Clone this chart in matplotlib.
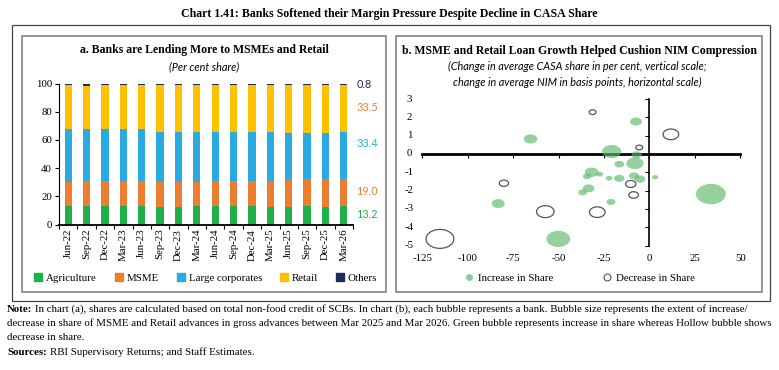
import matplotlib
matplotlib.use("Agg")
import matplotlib.pyplot as plt
import numpy as np
from matplotlib.patches import Rectangle
from matplotlib.path import Path
from matplotlib.lines import Line2D

# ---- data: panel a (per cent share of non-food credit) ----
quarters = ["Jun-22", "Sep-22", "Dec-22", "Mar-23", "Jun-23", "Sep-23", "Dec-23", "Mar-24",
            "Jun-24", "Sep-24", "Dec-24", "Mar-25", "Jun-25", "Sep-25", "Dec-25", "Mar-26"]
agri = [13.0, 13.0, 13.0, 13.1, 13.0, 12.4, 12.7, 13.0, 13.1, 13.0, 13.0, 12.7, 12.6, 12.8, 12.5, 13.2]
msme = [17.3, 17.5, 17.5, 17.7, 17.8, 17.6, 17.3, 17.3, 17.4, 17.8, 17.8, 18.1, 18.9, 19.2, 19.5, 19.0]
large_corp = [37.5, 36.9, 37.1, 37.0, 36.6, 35.6, 35.6, 35.3, 35.1, 34.8, 34.8, 34.8, 33.5, 33.0, 33.2, 33.4]
retail = [30.8, 31.1, 31.1, 30.9, 31.4, 33.2, 33.3, 33.3, 33.3, 33.4, 33.4, 33.4, 34.1, 34.1, 34.0, 33.5]
others = [1.4, 1.5, 1.3, 1.3, 1.2, 1.2, 1.1, 1.1, 1.1, 1.0, 1.0, 1.0, 0.9, 0.9, 0.8, 0.8]

# ---- data: panel b (each bubble = a bank) ----
# change in avg NIM (bps), change in avg CASA share (%), size = extent of change in MSME+Retail share
inc_nim = [-7.4, -20.8, -16.6, -8.0, -7.0, -31.8, -27.4, -34.3, -22.2, -16.6, -8.5, -5.3, 3.1,
           -33.5, -36.8, -21.2, -83.2, 33.8, -50.2, -65.4]
inc_casa = [1.77, 0.13, -0.56, -0.51, -0.05, -1.00, -1.11, -1.22, -1.33, -1.33, -1.20, -1.37, -1.27,
            -1.88, -2.10, -2.62, -2.71, -2.19, -4.64, 0.82]
inc_size = [1.3, 3.5, 0.9, 2.8, 1.0, 1.8, 0.45, 0.64, 0.45, 1.0, 1.0, 1.1, 0.36,
            1.3, 0.75, 0.75, 1.6, 8.4, 5.3, 1.7]
dec_nim = [-31.3, 11.8, -5.6, -10.3, -8.7, -28.7, -80.1, -57.3, -115.3]
dec_casa = [2.28, 1.07, 0.35, -1.64, -2.24, -3.18, -1.60, -3.15, -4.64]
dec_size = [0.45, 2.3, 0.45, 1.0, 0.87, 2.3, 0.8, 2.9, 7.3]

W, H = 779, 370
fig = plt.figure(figsize=(W / 100, H / 100), dpi=100)
serif = "Liberation Serif"
ital = "Lato"

def fig_rect(x0, y0, x1, y1):
    # pixel box (top-left origin) -> figure fraction rect
    return [x0 / W, 1 - y1 / H, (x1 - x0) / W, (y1 - y0) / H]

def box(x0, y0, x1, y1, color, lw):
    r = Rectangle((x0 / W, 1 - y1 / H), (x1 - x0) / W, (y1 - y0) / H, transform=fig.transFigure,
                  fill=False, edgecolor=color, linewidth=lw)
    fig.add_artist(r)

box(12, 25, 770, 301, "#444444", 0.9)
box(22, 36, 386, 292, "#8c8c8c", 1.3)
box(396, 36, 762, 292, "#8c8c8c", 1.3)

fig.text(0.5, 1 - 14 / H, "Chart 1.41: Banks Softened their Margin Pressure Despite Decline in CASA Share",
         ha="center", va="center", fontsize=8.6, fontweight="bold", family=serif)

# ---- panel a ----
colors = ["#1FAF4B", "#ED7D31", "#29ABE2", "#FFC000", "#1F2A5E"]
names = ["Agriculture", "MSME", "Large corporates", "Retail", "Others"]
series = [agri, msme, large_corp, retail, others]

ax1 = fig.add_axes(fig_rect(59, 83.5, 353, 224.5))
x = np.arange(len(quarters))
bottom = np.zeros(len(quarters))
for vals, c in zip(series, colors):
    ax1.bar(x, vals, bottom=bottom, width=0.4, color=c, linewidth=0)
    bottom += np.array(vals)
ax1.set_xlim(-0.5, len(quarters) - 0.5)
ax1.set_ylim(0, 100)
ax1.set_yticks(np.arange(0, 101, 20))
ax1.set_xticks(x)
ax1.set_xticklabels(quarters, rotation=90, family=serif, fontsize=7.8)
ax1.set_xticks(np.arange(-0.5, len(quarters)), minor=True)
ax1.tick_params(axis="x", which="major", length=0, pad=3)
ax1.tick_params(axis="x", which="minor", length=3, width=0.8)
ax1.tick_params(axis="y", length=3, width=0.8, labelsize=7.8, pad=2)
for lab in ax1.get_yticklabels():
    lab.set_family(serif)
for s in ["top", "right"]:
    ax1.spines[s].set_visible(False)
ax1.spines["bottom"].set_linewidth(1.3)
ax1.spines["left"].set_linewidth(0.8)

last = [v[-1] for v in series]
end_labels = [(7.1, last[0], colors[0]), (23.1, last[1], colors[1]), (57.7, last[2], colors[2]),
              (83.2, last[3], colors[1]), (99.6, last[4], colors[4])]
for yv, val, c in end_labels:
    ax1.text(len(quarters) - 0.5 + 0.18, yv, f"{val:.1f}", color=c, fontsize=7.8, family=ital,
             va="center", ha="left", clip_on=False)

fig.text(204 / W, 1 - 50 / H, "a. Banks are Lending More to MSMEs and Retail", ha="center", va="center",
         fontsize=8.5, fontweight="bold", family=serif)
fig.text(204 / W, 1 - 67 / H, "(Per cent share)", ha="center", va="center", fontsize=7.8,
         style="italic", family=ital)

handles = [Line2D([], [], marker="s", linestyle="none", markersize=6, markerfacecolor=c,
                  markeredgecolor=c) for c in colors]
fig.legend(handles, names, loc="center", bbox_to_anchor=(205 / W, 1 - 278 / H), ncol=5,
           frameon=False, prop={"family": serif, "size": 7.8}, handletextpad=0.25,
           columnspacing=1.5, handlelength=1.0)

# ---- panel b ----
t = np.linspace(0, 2 * np.pi, 60)
ellipse = Path(np.column_stack([np.cos(t), 0.68 * np.sin(t)]), closed=True)

ax2 = fig.add_axes(fig_rect(422.3, 99, 740.3, 245.5))
ax2.set_xlim(-125, 50)
ax2.set_ylim(-5, 3)
k = 55
ax2.scatter(inc_nim, inc_casa, s=np.array(inc_size) * k, marker=ellipse, facecolor="#5DB96A",
            edgecolor="none", alpha=0.65, zorder=3, clip_on=False)
ax2.scatter(dec_nim, dec_casa, s=np.array(dec_size) * k, marker=ellipse, facecolor="none",
            edgecolor="#555555", linewidth=0.9, zorder=3, clip_on=False)
ax2.spines["left"].set_position(("data", 0))
ax2.spines["bottom"].set_position(("data", 0))
ax2.spines["bottom"].set_linewidth(2.0)
ax2.spines["left"].set_linewidth(1.2)
ax2.spines["bottom"].set_zorder(2)
for s in ["top", "right"]:
    ax2.spines[s].set_visible(False)
xt = np.arange(-125, 51, 25)
yt = np.arange(-5, 4, 1)
ax2.set_xticks(xt)
ax2.set_yticks(yt)
ax2.tick_params(labelbottom=False, labelleft=False, length=3, width=0.8)
for v in xt:
    ax2.text(v, -0.06, f"{v}", transform=ax2.get_xaxis_transform(), ha="center", va="top",
             fontsize=7.8, family=serif)
for v in yt:
    ax2.text(-0.04, v, f"{v}", transform=ax2.get_yaxis_transform(), ha="center", va="center",
             fontsize=7.8, family=serif)

fig.text(579 / W, 1 - 51 / H, "b. MSME and Retail Loan Growth Helped Cushion NIM Compression",
         ha="center", va="center", fontsize=8.5, fontweight="bold", family=serif)
fig.text(577 / W, 1 - 66.5 / H, "(Change in average CASA share in per cent, vertical scale;",
         ha="center", va="center", fontsize=7.8, style="italic", family=ital)
fig.text(577 / W, 1 - 82.5 / H, "change in average NIM in basis points, horizontal scale)",
         ha="center", va="center", fontsize=7.8, style="italic", family=ital)

h2 = [Line2D([], [], marker="o", linestyle="none", markersize=5, markerfacecolor="#5DB96A",
             markeredgecolor="none", alpha=0.7),
      Line2D([], [], marker="o", linestyle="none", markersize=5, markerfacecolor="none",
             markeredgecolor="#555555", markeredgewidth=0.8)]
fig.legend(h2, ["Increase in Share", "Decrease in Share"], loc="center",
           bbox_to_anchor=(579 / W, 1 - 278 / H), ncol=2, frameon=False,
           prop={"family": serif, "size": 7.8}, handletextpad=0.3, columnspacing=4.5,
           handlelength=1.0)

# ---- notes ----
fig.canvas.draw()
renderer = fig.canvas.get_renderer()
nfs = 7.85

def note_line(y, head, body):
    xpos = 7
    if head:
        tx = fig.text(xpos / W, 1 - y / H, head, ha="left", va="baseline", fontsize=nfs,
                      fontweight="bold", family=serif)
        xpos += tx.get_window_extent(renderer).width + 3
    fig.text(xpos / W, 1 - y / H, body, ha="left", va="baseline", fontsize=nfs, family=serif)

note_line(312, "Note:", "In chart (a), shares are calculated based on total non-food credit of SCBs. In chart (b), "
          "each bubble represents a bank. Bubble size represents the extent of increase/")
note_line(326, None, "decrease in share of MSME and Retail advances in gross advances between Mar 2025 and Mar 2026. "
          "Green bubble represents increase in share whereas Hollow bubble shows")
note_line(340, None, "decrease in share.")
note_line(355, "Sources:", "RBI Supervisory Returns; and Staff Estimates.")

fig.savefig("out.png", dpi=100)
